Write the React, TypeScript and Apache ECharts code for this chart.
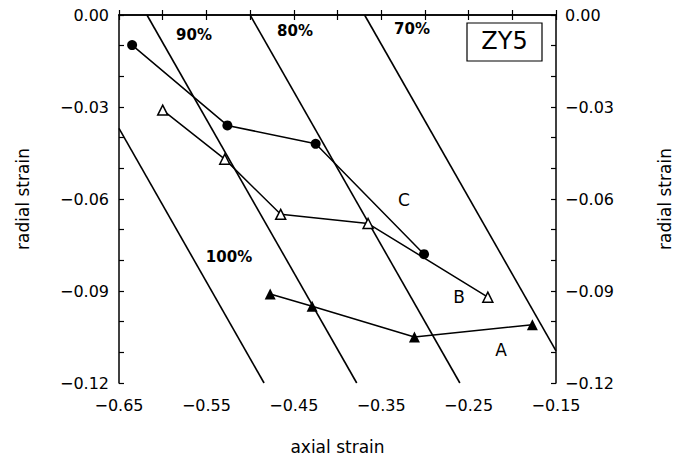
import React, { useEffect, useRef } from "react";
import * as echarts from "echarts";

// Series C (filled circles)
const cAxial = [-0.635, -0.526, -0.425, -0.301];
const cRadial = [-0.0098, -0.036, -0.042, -0.078];
// Series B (open triangles)
const bAxial = [-0.6, -0.529, -0.465, -0.365, -0.228];
const bRadial = [-0.031, -0.047, -0.065, -0.068, -0.092];
// Series A (filled triangles)
const aAxial = [-0.477, -0.429, -0.312, -0.177];
const aRadial = [-0.091, -0.095, -0.105, -0.101];
// Iso-percentage lines: endpoints [axial, radial]
const isoNames = ["100%", "90%", "80%", "70%"];
const isoStart = [[-0.65, -0.037], [-0.618, 0], [-0.5, 0], [-0.369, 0]];
const isoEnd = [[-0.484, -0.12], [-0.378, -0.12], [-0.26, -0.12], [-0.15, -0.1095]];

const xTicks = { min: -0.65, max: -0.15, step: 0.05 };
const yTicks = { min: -0.12, max: 0, step: 0.01 };

const FONT = "DejaVu Sans";

function fmt(v: number) {
  const s = Math.abs(v).toFixed(2);
  return v < -1e-9 ? "\u2212" + s : s;
}

export default function App() {
  const ref = useRef<HTMLDivElement>(null);
  useEffect(() => {
    document.body.style.margin = "0";
    document.body.style.overflow = "hidden";
    document.documentElement.style.overflow = "hidden";
    const chart = echarts.init(ref.current!, null, { renderer: "svg", width: 675, height: 457 });
    const pair = (xs: number[], ys: number[]) => xs.map((x, i) => [x, ys[i]]);
    const xLabel = (v: number) => {
      const k = Math.round(v * 100);
      return k % 10 === 0 ? "" : fmt(v);
    };
    const yLabel = (v: number) => {
      const k = Math.round(v * 100);
      return k % 3 === 0 ? fmt(v) : "";
    };
    const axisLine = { show: true, lineStyle: { color: "#000", width: 1.5 } };
    const axisTick = { show: true, inside: true, length: 5, lineStyle: { color: "#000", width: 1.2 } };
    const labelStyle = { color: "#000", fontFamily: FONT, fontSize: 16 };
    const nameStyle = { color: "#000", fontFamily: FONT, fontSize: 17 };
    const isoSeries = isoNames.map((n, i) => ({
      type: "line",
      name: n,
      data: [isoStart[i], isoEnd[i]],
      symbol: "none",
      silent: true,
      lineStyle: { color: "#000", width: 1.6 },
      xAxisIndex: 0,
      yAxisIndex: 0,
    }));
    const txt = (text: string, x: number, y: number, font: string) => ({
      type: "text",
      x,
      y,
      z: 10,
      style: { text, fill: "#000", font, align: "center", verticalAlign: "middle" },
    });
    const pctFont = `bold 15px "${FONT}"`;
    const letFont = `17px "${FONT}"`;
    chart.setOption({
      animation: false,
      backgroundColor: "#fff",
      grid: { left: 119, right: 119, top: 15, bottom: 74, containLabel: false, outerBoundsMode: "none" },
      xAxis: [
        {
          type: "value",
          position: "bottom",
          min: xTicks.min,
          max: xTicks.max,
          interval: xTicks.step,
          axisLine,
          axisTick,
          splitLine: { show: false },
          axisLabel: { ...labelStyle, formatter: xLabel, margin: 14 },
          name: "axial strain",
          nameLocation: "middle",
          nameGap: 55,
          nameTextStyle: nameStyle,
        },
        {
          type: "value",
          position: "top",
          min: xTicks.min,
          max: xTicks.max,
          interval: xTicks.step,
          axisLine,
          axisTick,
          splitLine: { show: false },
          axisLabel: { show: false },
        },
      ],
      yAxis: [
        {
          type: "value",
          position: "left",
          min: yTicks.min,
          max: yTicks.max,
          interval: yTicks.step,
          axisLine,
          axisTick,
          splitLine: { show: false },
          axisLabel: { ...labelStyle, formatter: yLabel, margin: 10 },
          name: "radial strain",
          nameLocation: "middle",
          nameGap: 88,
          nameTextStyle: nameStyle,
        },
        {
          type: "value",
          position: "right",
          min: yTicks.min,
          max: yTicks.max,
          interval: yTicks.step,
          axisLine,
          axisTick,
          splitLine: { show: false },
          axisLabel: { ...labelStyle, formatter: yLabel, margin: 9 },
          name: "radial strain",
          nameLocation: "middle",
          nameGap: 100,
          nameRotate: 90,
          nameTextStyle: nameStyle,
        },
      ],
      series: [
        ...isoSeries,
        {
          type: "line",
          name: "C",
          data: pair(cAxial, cRadial),
          symbol: "circle",
          symbolSize: 10,
          itemStyle: { color: "#000" },
          lineStyle: { color: "#000", width: 1.5 },
        },
        {
          type: "line",
          name: "B",
          data: pair(bAxial, bRadial),
          symbol: "triangle",
          symbolSize: 10,
          itemStyle: { color: "#fff", borderColor: "#000", borderWidth: 1.5 },
          lineStyle: { color: "#000", width: 1.5 },
          z: 3,
        },
        {
          type: "line",
          name: "A",
          data: pair(aAxial, aRadial),
          symbol: "triangle",
          symbolSize: 11,
          itemStyle: { color: "#000" },
          lineStyle: { color: "#000", width: 1.5 },
        },
      ],
      graphic: [
        txt("90%", 194, 35, pctFont),
        txt("80%", 295, 31, pctFont),
        txt("70%", 412, 29, pctFont),
        txt("100%", 229, 257, pctFont),
        txt("C", 404, 200, letFont),
        txt("B", 459, 297, letFont),
        txt("A", 501, 350, letFont),
        {
          type: "rect",
          x: 467,
          y: 23,
          z: 10,
          shape: { width: 75, height: 38 },
          style: { fill: "#fff", stroke: "#000", lineWidth: 1.2 },
        },
        { ...txt("ZY5", 504.5, 41, `24px "${FONT}"`), z: 11 },
      ],
    });
    return () => chart.dispose();
  }, []);
  return <div ref={ref} style={{ width: 675, height: 457 }} />;
}
